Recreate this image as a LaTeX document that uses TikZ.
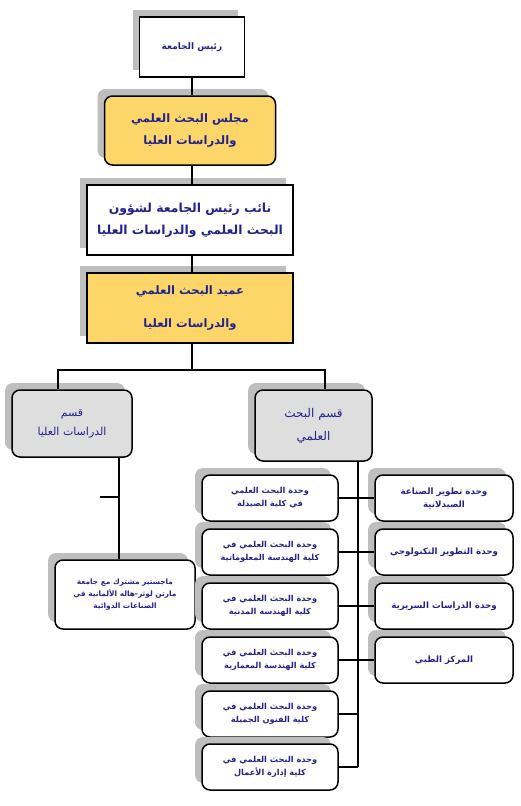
\documentclass[tikz,border=0pt]{standalone}
\usepackage{fontspec}
\usetikzlibrary{shadows}
\TeXXeTstate=1
\newfontfamily\arabicfont[Script=Arabic]{DejaVu Sans}
\newcommand\ar[1]{\beginR #1\endR}
\definecolor{navytext}{RGB}{35,35,140}
\definecolor{yellowbox}{RGB}{253,214,106}
\definecolor{graybox}{RGB}{222,222,222}
\definecolor{shadowgray}{RGB}{190,190,190}
\tikzset{
  box/.style={draw=black, line width=1.5pt, text=navytext, align=center,
    inner sep=2pt,
    general shadow={fill=shadowgray, shadow xshift=-7pt, shadow yshift=7pt}},
  sqbox/.style={box},
  rbox/.style={box, rounded corners=8pt},
  bigtext/.style={font=\arabicfont\bfseries\fontsize{11.6}{22}\selectfont},
  unit/.style={rbox, fill=white, minimum width=136pt, minimum height=46pt,
    font=\arabicfont\bfseries\fontsize{8.2}{13}\selectfont},
  runit/.style={rbox, fill=white, minimum width=138pt, minimum height=46pt,
    font=\arabicfont\bfseries\fontsize{8.7}{13}\selectfont},
  conn/.style={line width=1.3pt, black},
  spineline/.style={line width=2.2pt, black},
}
\begin{document}
\begin{tikzpicture}[x=1pt, y=-1pt]
\useasboundingbox (0,0) rectangle (520,806);

% top chain
\node[sqbox, fill=white, minimum width=105pt, minimum height=60pt,
  font=\arabicfont\bfseries\fontsize{9}{18}\selectfont] (pres) at (192,47) {\ar{رئيس الجامعة}};
\node[rbox, fill=yellowbox, minimum width=171pt, minimum height=69pt, bigtext] (council) at (190,130.5)
  {\ar{مجلس البحث العلمي}\\\ar{والدراسات العليا}};
\node[sqbox, fill=white, minimum width=206pt, minimum height=70pt,
  font=\arabicfont\bfseries\fontsize{12.4}{22}\selectfont] (vp) at (190,220)
  {\ar{نائب رئيس الجامعة لشؤون}\\\ar{البحث العلمي والدراسات العليا}};
\node[sqbox, fill=yellowbox, minimum width=206pt, minimum height=70pt,
  font=\arabicfont\bfseries\fontsize{11.6}{33}\selectfont] (dean) at (190,308)
  {\ar{عميد البحث العلمي}\\\ar{والدراسات العليا}};

% second level
\node[rbox, fill=graybox, minimum width=120pt, minimum height=67pt,
  font=\arabicfont\fontsize{11}{19}\selectfont] (gs) at (72,423.5)
  {\ar{قسم}\\\ar{الدراسات العليا}};
\node[rbox, fill=graybox, minimum width=117pt, minimum height=71pt,
  font=\arabicfont\fontsize{12}{23}\selectfont] (rs) at (313.5,425.5)
  {\ar{قسم البحث}\\\ar{العلمي}};

% master box
\node[rbox, fill=white, minimum width=140pt, minimum height=69pt,
  font=\arabicfont\bfseries\fontsize{7.4}{12}\selectfont] (ms) at (125,594.5)
  {\ar{ماجستير مشترك مع جامعة}\\\ar{مارتن لوثر-هاله الألمانية في}\\\ar{الصناعات الدوائية}};

% left column units
\node[unit] (u1) at (270,498) {\ar{وحدة البحث العلمي}\\\ar{في كلية الصيدلة}};
\node[unit] (u2) at (270,552) {\ar{وحدة البحث العلمي في}\\\ar{كلية الهندسة المعلوماتية}};
\node[unit] (u3) at (270,606) {\ar{وحدة البحث العلمي في}\\\ar{كلية الهندسة المدنية}};
\node[unit] (u4) at (270,660) {\ar{وحدة البحث العلمي في}\\\ar{كلية الهندسة المعمارية}};
\node[unit] (u5) at (270,714) {\ar{وحدة البحث العلمي في}\\\ar{كلية الفنون الجميلة}};
\node[unit] (u6) at (270,767) {\ar{وحدة البحث العلمي في}\\\ar{كلية إدارة الأعمال}};

% right column units
\node[runit] (r1) at (444,498) {\ar{وحدة تطوير الصناعة}\\\ar{الصيدلانية}};
\node[runit] (r2) at (444,552) {\ar{وحدة التطوير التكنولوجي}};
\node[runit] (r3) at (444,606) {\ar{وحدة الدراسات السريرية}};
\node[runit] (r4) at (444,660) {\ar{المركز الطبي}};

% connectors
\draw[conn] (pres.south) -- (pres.south |- council.north);
\draw[conn] (council.south -| pres.south) -- (vp.north -| pres.south);
\draw[conn] (vp.south -| pres.south) -- (dean.north -| pres.south);

\coordinate (busL) at (58,370);
\coordinate (busR) at (325,370);
\draw[conn] (dean.south -| pres.south) -- (busL -| pres.south);
\draw[conn] (gs.north -| busL) -- (busL) -- (busR) -- (rs.north -| busR);

\coordinate (gx) at (119,0);
\coordinate (stub) at (100,497);
\draw[conn] (gs.south -| gx) -- (ms.north -| gx);
\draw[conn] (stub) -- (stub -| gx);

\coordinate (sx) at (358,0);
\draw[spineline] (rs.south -| sx) -- (u6.east -| sx);
\draw[conn] (u6.east) -- (u6.east -| sx);
\draw[conn] (u5.east) -- (u5.east -| sx);
\draw[conn] (u1.east) -- (r1.west);
\draw[conn] (u2.east) -- (r2.west);
\draw[conn] (u3.east) -- (r3.west);
\draw[conn] (u4.east) -- (r4.west);
\end{tikzpicture}
\end{document}
